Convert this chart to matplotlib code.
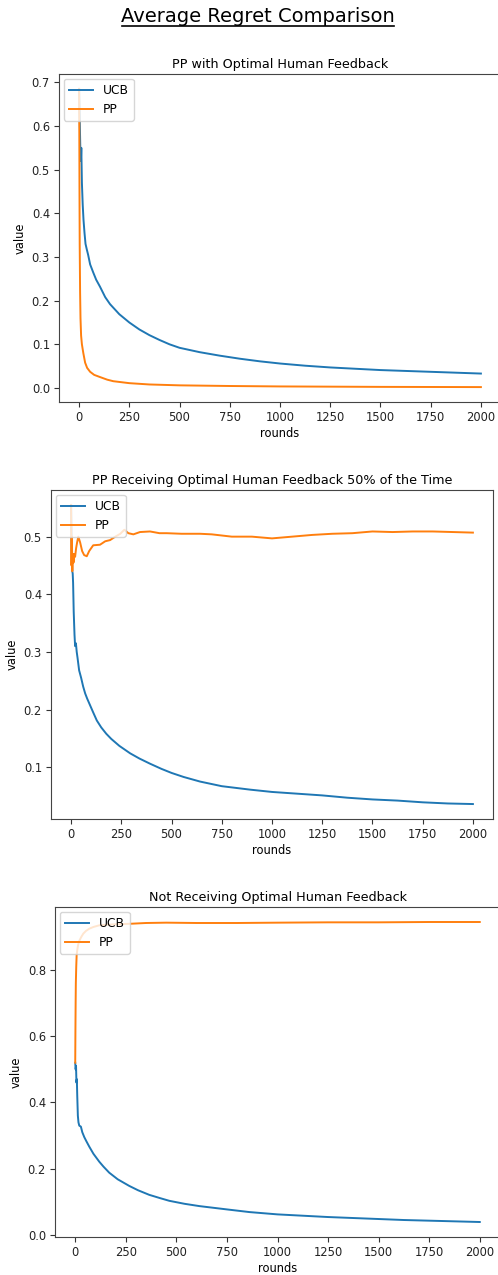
import matplotlib
matplotlib.use("Agg")
import matplotlib.pyplot as plt
from matplotlib.lines import Line2D

# 读取的数据 (round, value) - 图1
rounds_1_ucb = [0, 3, 6, 9, 11, 14, 18, 22, 27, 32, 38, 45, 55, 70, 85, 104, 130, 154, 200, 250,
                300, 350, 400, 450, 500, 600, 700, 800, 900, 1000, 1125, 1250, 1375, 1500, 1625,
                1750, 1875, 2000]
ucb_1 = [0.685, 0.62, 0.55, 0.52, 0.55, 0.47, 0.42, 0.385, 0.355, 0.33, 0.318, 0.305, 0.283,
         0.265, 0.248, 0.232, 0.208, 0.192, 0.169, 0.15, 0.134, 0.121, 0.11, 0.1, 0.092, 0.082,
         0.074, 0.067, 0.061, 0.056, 0.051, 0.047, 0.044, 0.041, 0.039, 0.037, 0.035, 0.033]
rounds_1_pp = [0, 1, 2, 3, 5, 7, 10, 14, 21, 30, 40, 55, 75, 104, 140, 170, 250, 350, 500, 750,
               1000, 1500, 2000]
pp_1 = [0.685, 0.6, 0.45, 0.33, 0.22, 0.16, 0.12, 0.1, 0.08, 0.058, 0.046, 0.037, 0.03, 0.025,
        0.019, 0.0155, 0.011, 0.008, 0.006, 0.0045, 0.0035, 0.0025, 0.002]

# 图2
rounds_2_ucb = [0, 2, 4, 6, 8, 10, 13, 17, 20, 24, 28, 32, 40, 50, 60, 70, 80, 95, 110, 128, 150,
                175, 200, 240, 294, 340, 393, 450, 500, 560, 642, 750, 891, 1000, 1125, 1250,
                1375, 1500, 1625, 1750, 1875, 2000]
ucb_2 = [0.555, 0.5, 0.46, 0.44, 0.436, 0.42, 0.37, 0.33, 0.31, 0.315, 0.3, 0.29, 0.268, 0.255,
         0.24, 0.228, 0.219, 0.207, 0.195, 0.181, 0.169, 0.158, 0.149, 0.137, 0.124, 0.115,
         0.106, 0.097, 0.09, 0.083, 0.075, 0.067, 0.061, 0.057, 0.054, 0.051, 0.047, 0.044,
         0.042, 0.039, 0.037, 0.036]
rounds_2_pp = [0, 2, 4, 6, 9, 12, 16, 20, 25, 30, 36, 45, 55, 65, 78, 90, 110, 144, 170, 194,
               220, 245, 265, 285, 310, 343, 393, 440, 476, 550, 642, 700, 800, 900, 1000, 1100,
               1200, 1300, 1400, 1500, 1600, 1700, 1800, 1900, 2000]
pp_2 = [0.555, 0.45, 0.5, 0.44, 0.47, 0.455, 0.47, 0.465, 0.48, 0.49, 0.5, 0.49, 0.475, 0.468,
        0.466, 0.475, 0.485, 0.486, 0.492, 0.494, 0.5, 0.505, 0.512, 0.506, 0.504, 0.508, 0.509,
        0.506, 0.506, 0.505, 0.505, 0.504, 0.5, 0.5, 0.497, 0.5, 0.503, 0.505, 0.506, 0.509,
        0.508, 0.509, 0.509, 0.508, 0.507]

# 图3
rounds_3_ucb = [0, 2, 4, 6, 8, 10, 13, 16, 20, 28, 35, 45, 55, 69, 90, 119, 140, 168, 210, 267,
                310, 366, 420, 465, 540, 614, 750, 861, 1000, 1125, 1250, 1375, 1500, 1625, 1750,
                1875, 2000]
ucb_3 = [0.52, 0.5, 0.51, 0.46, 0.47, 0.42, 0.36, 0.34, 0.33, 0.327, 0.31, 0.295, 0.283, 0.267,
         0.245, 0.221, 0.206, 0.188, 0.168, 0.148, 0.135, 0.121, 0.111, 0.103, 0.094, 0.087,
         0.077, 0.069, 0.062, 0.058, 0.054, 0.051, 0.048, 0.045, 0.043, 0.041, 0.039]
rounds_3_pp = [0, 1, 2, 3, 5, 7, 10, 14, 20, 30, 40, 53, 70, 90, 119, 160, 200, 284, 350, 450,
               600, 800, 1000, 1250, 1500, 1750, 2000]
pp_3 = [0.52, 0.62, 0.7, 0.76, 0.81, 0.845, 0.86, 0.875, 0.888, 0.9, 0.91, 0.918, 0.925, 0.93,
        0.935, 0.937, 0.938, 0.94, 0.942, 0.943, 0.942, 0.942, 0.943, 0.944, 0.944, 0.945, 0.945]

titles = ["PP with Optimal Human Feedback",
          "PP Receiving Optimal Human Feedback 50% of the Time",
          "Not Receiving Optimal Human Feedback"]
series = [
    (rounds_1_ucb, ucb_1, rounds_1_pp, pp_1),
    (rounds_2_ucb, ucb_2, rounds_2_pp, pp_2),
    (rounds_3_ucb, ucb_3, rounds_3_pp, pp_3),
]

W, H = 498, 1275
# 各子图在像素中的位置: left, right, top, bottom
boxes = [(59, 501, 74, 402), (51, 493, 490, 819), (55, 500, 907, 1237)]
fs = 8.3

fig = plt.figure(figsize=(W / 100, H / 100), dpi=100)

for (l, r, t, b), title, (xu, yu, xp, yp) in zip(boxes, titles, series):
    ax = fig.add_axes([l / W, 1 - b / H, (r - l) / W, (b - t) / H])
    ax.plot(xu, yu, color="#1f77b4", lw=1.4, label="UCB")
    ax.plot(xp, yp, color="#ff7f0e", lw=1.4, label="PP")
    ax.set_title(title, fontsize=9.2, pad=4.5)
    ax.set_xlabel("rounds", fontsize=fs, labelpad=2)
    ax.set_ylabel("value", fontsize=fs)
    ax.set_xticks([0, 250, 500, 750, 1000, 1250, 1500, 1750, 2000])
    ax.tick_params(labelsize=fs, length=3.5, pad=3, colors="#333333", labelcolor="#222222")
    for s in ax.spines.values():
        s.set_color("#444444")
    ax.legend(loc="upper left", fontsize=8.8, borderaxespad=0.4)

# 标题加下划线
fig.text(258 / W, 1 - 16 / H, "Average Regret Comparison", fontsize=14,
         ha="center", va="center")
fig.add_artist(Line2D([122 / W, 394 / W], [1 - 25.5 / H, 1 - 25.5 / H], color="black", lw=1.2))

fig.savefig("out.png", dpi=100)
